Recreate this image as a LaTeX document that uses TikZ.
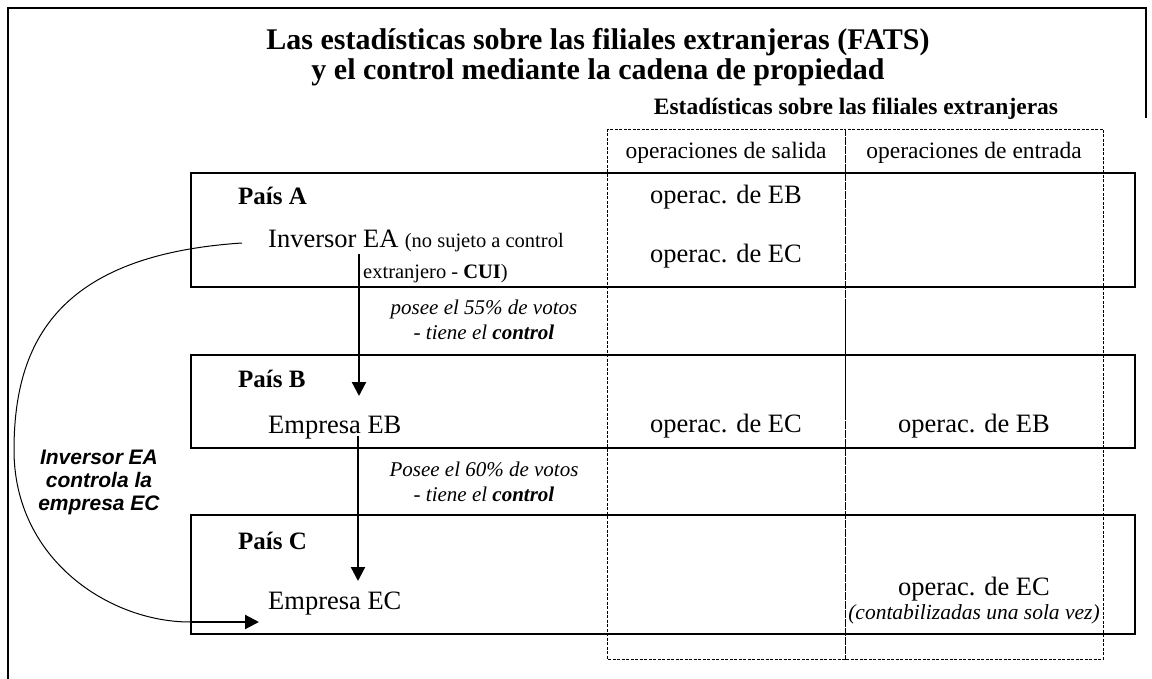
\documentclass[tikz,border=0pt]{standalone}
\usepackage{fontspec}
\setmainfont{Liberation Serif}
\newfontfamily\arialfont{Liberation Sans}
\usetikzlibrary{arrows.meta}
\tikzset{
  frame/.style={line width=1.8pt},
  cbox/.style={draw, line width=2.2pt},
  dashbox/.style={draw, line width=0.8pt, dash pattern=on 3pt off 1.5pt},
  txt/.style={inner sep=0pt, font=\fontsize{26.5}{30}\selectfont},
  hdr/.style={inner sep=0pt, font=\fontsize{23.5}{27}\selectfont},
  lbl/.style={inner sep=0pt, font=\fontsize{25}{29}\selectfont\bfseries},
  small/.style={inner sep=0pt, font=\fontsize{20.5}{24}\selectfont},
  note/.style={inner sep=0pt, align=center, font=\fontsize{21}{25}\selectfont\itshape},
  arr/.style={line width=2.2pt, -{Triangle[length=14pt,width=14pt]}},
}
\begin{document}
\begin{tikzpicture}[x=1pt,y=-1pt]
\useasboundingbox (0,0) rectangle (1152,679);
% outer frame (open at bottom)
\draw[frame] (8,679) -- (8,8) -- (1146,8) -- (1146,118);
% title
\node[inner sep=0pt, align=center, font=\fontsize{30}{30}\selectfont\bfseries] (title) at (598,57)
  {Las estadísticas sobre las filiales extranjeras (FATS)\\y el control mediante la cadena de propiedad};
\node[inner sep=0pt, font=\fontsize{23.5}{27}\selectfont\bfseries] (stats) at (856,109) {Estadísticas sobre las filiales extranjeras};
% country boxes
\draw[cbox] (191,173) rectangle (1135,287);
\draw[cbox] (191,355) rectangle (1135,448);
\draw[cbox] (191,515) rectangle (1135,634);
% dashed columns
\draw[dashbox] (607,129) rectangle (845,659);
\draw[dashbox] (845,129) rectangle (1103,659);
\node[hdr] (hsal) at (726,153) {operaciones de salida};
\node[hdr] (hent) at (974,153) {operaciones de entrada};
% Pais A
\node[lbl, anchor=west] (pa) at (238,196) {País A};
\node[txt, anchor=base west] (ea) at (268,248) {Inversor EA};
\node[small, anchor=base west] (ea2) at ([xshift=6pt]ea.base east) {(no sujeto a control};
\node[small, anchor=base west] (ea3) at (363,279) {extranjero - \textbf{CUI})};
\node[txt] (a1) at (726,197) {operac. de EB};
\node[txt] (a2) at (726,256) {operac. de EC};
% note 1
\node[note] (n1) at (484,320) {posee el 55\% de votos\\- tiene el \textbf{control}};
% Pais B
\node[lbl, anchor=west] (pb) at (238,379) {País B};
\node[txt, anchor=base west] (eb) at (268,433) {Empresa EB};
\node[txt] (b1) at (726,426) {operac. de EC};
\node[txt] (b2) at (974,426) {operac. de EB};
% note 2
\node[note] (n2) at (484,482) {Posee el 60\% de votos\\- tiene el \textbf{control}};
% Pais C
\node[lbl, anchor=west] (pc) at (238,541) {País C};
\node[txt, anchor=base west] (ec) at (268,609) {Empresa EC};
\node[txt] (c1) at (974,589) {operac. de EC};
\node[inner sep=0pt, font=\fontsize{21.5}{24}\selectfont\itshape] (c2) at (974,614) {(contabilizadas una sola vez)};
% side label
\node[inner sep=0pt, align=center, font=\arialfont\fontsize{21}{23}\selectfont\bfseries\itshape] (side) at (99,482) {Inversor EA\\controla la\\empresa EC};
% arrows
\coordinate (s1) at (359,254);
\coordinate (t1) at (359,396);
\draw[arr] (s1) -- (t1);
\coordinate (s2) at (358,436);
\coordinate (t2) at (358,581);
\draw[arr] (s2) -- (t2);
% curved control arrow
\coordinate (cs) at (242,243);
\coordinate (cm) at (190,622);
\coordinate (ce) at (259,622);
\draw[line width=1pt] (cs) .. controls (60,255) and (14,340) .. (14,450)
  .. controls (14,560) and (110,622) .. (cm);
\draw[arr] (cm) -- (ce);
\end{tikzpicture}
\end{document}
